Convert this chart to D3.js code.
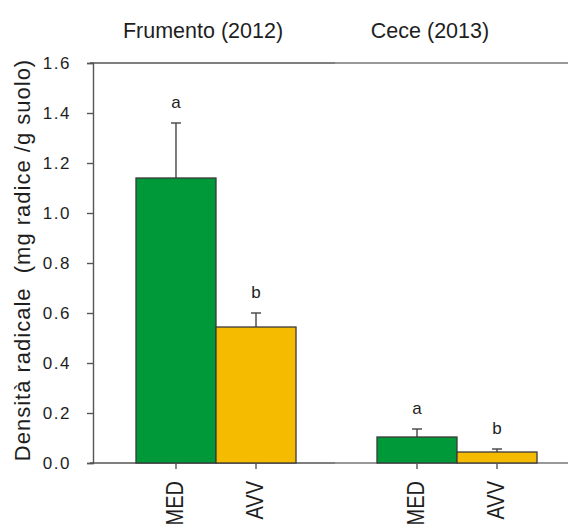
<!DOCTYPE html>
<html>
<head>
<meta charset="utf-8">
<script src="https://cdn.jsdelivr.net/npm/d3@7"></script>
<style>
  html, body { margin: 0; padding: 0; background: #fff; }
  svg { display: block; }
  text { font-family: "Liberation Sans", Arial, sans-serif; fill: #1e1e1e; }
</style>
</head>
<body>
<svg id="chart" width="568" height="527"></svg>
<script>
// Root density by crop season and treatment
const crops = ["Frumento (2012)", "Cece (2013)"];
const treatments = ["MED", "AVV"];
const means = [[1.14, 0.544], [0.104, 0.044]];
const errors = [[0.22, 0.056], [0.032, 0.012]];
const letters = [["a", "b"], ["a", "b"]];
const yTicks = [0.0, 0.2, 0.4, 0.6, 0.8, 1.0, 1.2, 1.4, 1.6];
const colors = { MED: "#00993a", AVV: "#f5bb00" };

const svg = d3.select("#chart");
const axisColor = "#555";
const axisColorRight = "#777";

const y = d3.scaleLinear().domain([0, 1.6]).range([463, 63]);
const xGroup = d3.scaleBand().domain(crops).range([95.5, 577.5])
  .paddingInner(0.336).paddingOuter(0.168);
const xBar = d3.scaleBand().domain(treatments).range([0, xGroup.bandwidth()]);

const rows = [];
crops.forEach((c, i) => treatments.forEach((t, j) => {
  rows.push({ crop: c, treat: t, mean: means[i][j], err: errors[i][j], letter: letters[i][j] });
}));

// panel frame: top edge and baseline, left panel darker than right panel
const split = 335;
[y(1.6), y(0)].forEach(yy => {
  svg.append("line").attr("x1", 90).attr("x2", split).attr("y1", yy).attr("y2", yy)
    .attr("stroke", axisColor).attr("stroke-width", 1.4);
  svg.append("line").attr("x1", split).attr("x2", 568).attr("y1", yy).attr("y2", yy)
    .attr("stroke", axisColorRight).attr("stroke-width", 1.3);
});

// error bars (upper whisker only)
const cx = d => xGroup(d.crop) + xBar(d.treat) + xBar.bandwidth() / 2;
const eb = svg.append("g").attr("stroke", "#444").attr("stroke-width", 1.4);
eb.selectAll("line.v").data(rows).join("line")
  .attr("x1", cx).attr("x2", cx)
  .attr("y1", d => y(d.mean)).attr("y2", d => y(d.mean + d.err));
eb.selectAll("line.h").data(rows).join("line")
  .attr("x1", d => cx(d) - 5).attr("x2", d => cx(d) + 5)
  .attr("y1", d => y(d.mean + d.err)).attr("y2", d => y(d.mean + d.err));

// bars
svg.append("g").selectAll("rect").data(rows).join("rect")
  .attr("x", d => xGroup(d.crop) + xBar(d.treat))
  .attr("y", d => y(d.mean))
  .attr("width", xBar.bandwidth())
  .attr("height", d => y(0) - y(d.mean))
  .attr("fill", d => colors[d.treat])
  .attr("stroke", "#3a3a3a").attr("stroke-width", 1.3);

// significance letters
svg.append("g").selectAll("text").data(rows).join("text")
  .attr("x", cx)
  .attr("y", d => y(d.mean + d.err) - 15)
  .attr("text-anchor", "middle")
  .attr("font-size", 17)
  .text(d => d.letter);

// y axis
const yAxis = svg.append("g").attr("transform", "translate(93,0)")
  .call(d3.axisLeft(y).tickValues(yTicks).tickFormat(d3.format(".1f")).tickSizeOuter(0).tickSize(6).tickPadding(16));
yAxis.select(".domain").attr("stroke", axisColor).attr("stroke-width", 1.4);
yAxis.selectAll(".tick line").attr("stroke", axisColor).attr("stroke-width", 1.4);
yAxis.selectAll(".tick text").attr("font-size", 17).attr("fill", "#1e1e1e")
  .attr("letter-spacing", 1.5)
  .attr("font-family", "Liberation Sans, Arial, sans-serif");

// ticks and rotated labels under each bar
svg.append("g").selectAll("line").data(rows).join("line")
  .attr("x1", cx).attr("x2", cx).attr("y1", y(0)).attr("y2", y(0) + 6)
  .attr("stroke", axisColor).attr("stroke-width", 1.4);
svg.append("g").selectAll("text").data(rows).join("text")
  .attr("transform", d => `translate(${cx(d) + 7},${y(0) + 18}) rotate(-90) scale(1,1.2)`)
  .attr("text-anchor", "end")
  .attr("font-size", 20)
  .text(d => d.treat);

// crop titles
const titleShift = [-13, -27];
svg.append("g").selectAll("text").data(crops).join("text")
  .attr("x", (c, i) => xGroup(c) + xGroup.bandwidth() / 2 + titleShift[i])
  .attr("y", 38)
  .attr("text-anchor", "middle")
  .attr("font-size", 21.5)
  .text(c => c);

// y axis title
svg.append("text")
  .attr("transform", "translate(30,260) rotate(-90)")
  .attr("text-anchor", "middle")
  .attr("font-size", 22)
  .attr("letter-spacing", 1)
  .attr("xml:space", "preserve")
  .text("Densità radicale  (mg radice /g suolo)");
</script>
</body>
</html>
